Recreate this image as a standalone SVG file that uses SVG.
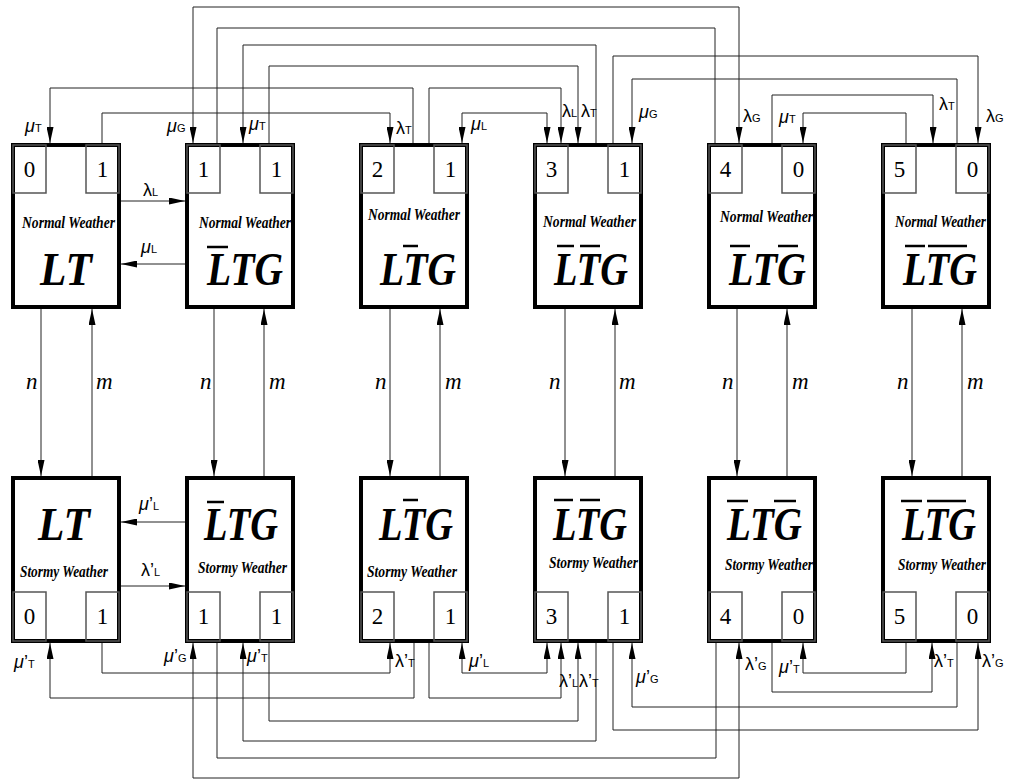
<svg xmlns="http://www.w3.org/2000/svg" width="1017" height="780" viewBox="0 0 1017 780">
<style>
.box{fill:#fff;stroke:#000;stroke-width:4}
.in{fill:none;stroke:#555;stroke-width:1.5}
.num{font-family:"Liberation Serif","Times New Roman",serif;font-size:23px;text-anchor:middle}
.w{font-family:"Liberation Serif","Times New Roman",serif;font-style:italic;font-weight:bold;font-size:16px}
.big{font-family:"Liberation Serif","Times New Roman",serif;font-style:italic;font-weight:bold;font-size:46px}
.bar{stroke:#000;stroke-width:2.5}
.c{fill:none;stroke:#222;stroke-width:1}
.lb{font-family:"Liberation Sans",Arial,sans-serif;font-size:18px}
.mu{font-style:italic;font-size:18px}
.s{font-size:11px}
.nm{font-family:"Liberation Serif","Times New Roman",serif;font-style:italic;font-size:23px}
</style>
<defs>
<marker id="ah" viewBox="0 0 16 7" refX="16" refY="3.5" markerWidth="16" markerHeight="7" orient="auto-start-reverse" markerUnits="userSpaceOnUse"><path d="M0,0 L16,3.5 L0,7 z" fill="#000"/></marker>
</defs>
<g id="connectors">
<path class="c" d="M193,143 V7 H739 V143" marker-start="url(#ah)" marker-end="url(#ah)"/>
<path class="c" d="M217,143 V28 H715 V143"/>
<path class="c" d="M596,143 V45 H243 V143" marker-end="url(#ah)"/>
<path class="c" d="M269,143 V66 H578 V143" marker-end="url(#ah)"/>
<path class="c" d="M413,143 V88 H50 V143" marker-end="url(#ah)"/>
<path class="c" d="M102,143 V113 H390 V143" marker-end="url(#ah)"/>
<path class="c" d="M429,143 V88 H561 V143" marker-end="url(#ah)"/>
<path class="c" d="M462,143 V113 H547 V143" marker-start="url(#ah)" marker-end="url(#ah)"/>
<path class="c" d="M613,143 V56 H978 V143" marker-end="url(#ah)"/>
<path class="c" d="M957,143 V79 H632 V143" marker-end="url(#ah)"/>
<path class="c" d="M772,143 V95 H933 V143" marker-end="url(#ah)"/>
<path class="c" d="M906,143 V113 H803 V143" marker-end="url(#ah)"/>
<path class="c" d="M193,643 V778 H739 V643" marker-start="url(#ah)" marker-end="url(#ah)"/>
<path class="c" d="M217,643 V758 H716 V643"/>
<path class="c" d="M596,643 V741 H243 V643" marker-end="url(#ah)"/>
<path class="c" d="M269,643 V721 H578 V643" marker-end="url(#ah)"/>
<path class="c" d="M414,643 V698 H50 V643" marker-end="url(#ah)"/>
<path class="c" d="M102,643 V673 H390 V643" marker-end="url(#ah)"/>
<path class="c" d="M429,643 V698 H561 V643" marker-end="url(#ah)"/>
<path class="c" d="M462,643 V673 H547 V643" marker-start="url(#ah)" marker-end="url(#ah)"/>
<path class="c" d="M613,643 V730 H978 V643" marker-end="url(#ah)"/>
<path class="c" d="M957,643 V707 H632 V643" marker-end="url(#ah)"/>
<path class="c" d="M772,643 V692 H932 V643" marker-end="url(#ah)"/>
<path class="c" d="M906,643 V673 H803 V643" marker-end="url(#ah)"/>
<path class="c" d="M121,201 H185" marker-end="url(#ah)"/>
<path class="c" d="M185,264 H121" marker-end="url(#ah)"/>
<path class="c" d="M185,522 H121" marker-end="url(#ah)"/>
<path class="c" d="M121,586 H185" marker-end="url(#ah)"/>
<path class="c" d="M41,309 V476" marker-end="url(#ah)"/>
<path class="c" d="M92,476 V309" marker-end="url(#ah)"/>
<path class="c" d="M214,309 V476" marker-end="url(#ah)"/>
<path class="c" d="M264,476 V309" marker-end="url(#ah)"/>
<path class="c" d="M390,309 V476" marker-end="url(#ah)"/>
<path class="c" d="M440,476 V309" marker-end="url(#ah)"/>
<path class="c" d="M565,309 V476" marker-end="url(#ah)"/>
<path class="c" d="M615,476 V309" marker-end="url(#ah)"/>
<path class="c" d="M737,309 V476" marker-end="url(#ah)"/>
<path class="c" d="M787,476 V309" marker-end="url(#ah)"/>
<path class="c" d="M912,309 V476" marker-end="url(#ah)"/>
<path class="c" d="M962,476 V309" marker-end="url(#ah)"/>
</g>
<g id="labels">
<text class="nm" x="26" y="389">n</text><text class="nm" x="96" y="389">m</text>
<text class="nm" x="200" y="389">n</text><text class="nm" x="269" y="389">m</text>
<text class="nm" x="375" y="389">n</text><text class="nm" x="445" y="389">m</text>
<text class="nm" x="549" y="389">n</text><text class="nm" x="619" y="389">m</text>
<text class="nm" x="722" y="389">n</text><text class="nm" x="792" y="389">m</text>
<text class="nm" x="897" y="389">n</text><text class="nm" x="967" y="389">m</text>
<text class="lb" x="25" y="132"><tspan class="mu">μ</tspan><tspan class="s">T</tspan></text>
<text class="lb" x="167" y="132"><tspan class="mu">μ</tspan><tspan class="s">G</tspan></text>
<text class="lb" x="249" y="130"><tspan class="mu">μ</tspan><tspan class="s">T</tspan></text>
<text class="lb" x="396" y="134">λ<tspan class="s">T</tspan></text>
<text class="lb" x="471" y="130"><tspan class="mu">μ</tspan><tspan class="s">L</tspan></text>
<text class="lb" x="562" y="117">λ<tspan class="s">L</tspan></text>
<text class="lb" x="581" y="117">λ<tspan class="s">T</tspan></text>
<text class="lb" x="639" y="118"><tspan class="mu">μ</tspan><tspan class="s">G</tspan></text>
<text class="lb" x="743" y="122">λ<tspan class="s">G</tspan></text>
<text class="lb" x="779" y="123"><tspan class="mu">μ</tspan><tspan class="s">T</tspan></text>
<text class="lb" x="939" y="110">λ<tspan class="s">T</tspan></text>
<text class="lb" x="986" y="122">λ<tspan class="s">G</tspan></text>
<text class="lb" x="143" y="196">λ<tspan class="s">L</tspan></text>
<text class="lb" x="141" y="253"><tspan class="mu">μ</tspan><tspan class="s">L</tspan></text>
<text class="lb" x="14" y="668"><tspan class="mu">μ</tspan>’<tspan class="s">T</tspan></text>
<text class="lb" x="164" y="662"><tspan class="mu">μ</tspan>’<tspan class="s">G</tspan></text>
<text class="lb" x="247" y="662"><tspan class="mu">μ</tspan>’<tspan class="s">T</tspan></text>
<text class="lb" x="395" y="667">λ’<tspan class="s">T</tspan></text>
<text class="lb" x="469" y="667"><tspan class="mu">μ</tspan>’<tspan class="s">L</tspan></text>
<text class="lb" x="559" y="687">λ’<tspan class="s">L</tspan></text>
<text class="lb" x="579" y="687">λ’<tspan class="s">T</tspan></text>
<text class="lb" x="636" y="683"><tspan class="mu">μ</tspan>’<tspan class="s">G</tspan></text>
<text class="lb" x="745" y="670">λ’<tspan class="s">G</tspan></text>
<text class="lb" x="779" y="673"><tspan class="mu">μ</tspan>’<tspan class="s">T</tspan></text>
<text class="lb" x="934" y="667">λ’<tspan class="s">T</tspan></text>
<text class="lb" x="982" y="667">λ’<tspan class="s">G</tspan></text>
<text class="lb" x="139" y="510"><tspan class="mu">μ</tspan>’<tspan class="s">L</tspan></text>
<text class="lb" x="141" y="576">λ’<tspan class="s">L</tspan></text>
</g>
<g id="N0">
<rect class="box" x="13" y="145" width="106" height="162"/>
<rect class="in" x="13" y="145" width="33" height="48"/><rect class="in" x="86" y="145" width="33" height="48"/>
<text class="num" x="29.5" y="177">0</text><text class="num" x="102.5" y="177">1</text>
<text class="w" x="22" y="228" textLength="93" lengthAdjust="spacingAndGlyphs">Normal Weather</text>
<text class="big" x="40" y="285" textLength="52" lengthAdjust="spacingAndGlyphs">LT</text>
</g>
<g id="N1">
<rect class="box" x="187" y="145" width="106" height="162"/>
<rect class="in" x="187" y="145" width="33" height="48"/><rect class="in" x="260" y="145" width="33" height="48"/>
<text class="num" x="203.5" y="177">1</text><text class="num" x="276.5" y="177">1</text>
<text class="w" x="199" y="228" textLength="92" lengthAdjust="spacingAndGlyphs">Normal Weather</text>
<text class="big" x="207" y="285" textLength="76" lengthAdjust="spacingAndGlyphs">LTG</text>
<line class="bar" x1="207" y1="247" x2="228" y2="247"/>
</g>
<g id="N2">
<rect class="box" x="361" y="145" width="106" height="162"/>
<rect class="in" x="361" y="145" width="33" height="48"/><rect class="in" x="434" y="145" width="33" height="48"/>
<text class="num" x="377.5" y="177">2</text><text class="num" x="450.5" y="177">1</text>
<text class="w" x="368" y="220" textLength="92" lengthAdjust="spacingAndGlyphs">Normal Weather</text>
<text class="big" x="380" y="285" textLength="76" lengthAdjust="spacingAndGlyphs">LTG</text>
<line class="bar" x1="403" y1="246" x2="418" y2="246"/>
</g>
<g id="N3">
<rect class="box" x="535" y="145" width="106" height="162"/>
<rect class="in" x="535" y="145" width="33" height="48"/><rect class="in" x="608" y="145" width="33" height="48"/>
<text class="num" x="551.5" y="177">3</text><text class="num" x="624.5" y="177">1</text>
<text class="w" x="543" y="227" textLength="93" lengthAdjust="spacingAndGlyphs">Normal Weather</text>
<text class="big" x="554" y="285" textLength="74" lengthAdjust="spacingAndGlyphs">LTG</text>
<line class="bar" x1="557" y1="246" x2="574" y2="246"/><line class="bar" x1="580" y1="246" x2="600" y2="246"/>
</g>
<g id="N4">
<rect class="box" x="709" y="145" width="106" height="162"/>
<rect class="in" x="709" y="145" width="33" height="48"/><rect class="in" x="782" y="145" width="33" height="48"/>
<text class="num" x="725.5" y="177">4</text><text class="num" x="798.5" y="177">0</text>
<text class="w" x="720" y="222" textLength="93" lengthAdjust="spacingAndGlyphs">Normal Weather</text>
<text class="big" x="729" y="285" textLength="77" lengthAdjust="spacingAndGlyphs">LTG</text>
<line class="bar" x1="730" y1="246" x2="750" y2="246"/><line class="bar" x1="778" y1="246" x2="798" y2="246"/>
</g>
<g id="N5">
<rect class="box" x="883" y="145" width="106" height="162"/>
<rect class="in" x="883" y="145" width="33" height="48"/><rect class="in" x="956" y="145" width="33" height="48"/>
<text class="num" x="899.5" y="177">5</text><text class="num" x="972.5" y="177">0</text>
<text class="w" x="895" y="227" textLength="91" lengthAdjust="spacingAndGlyphs">Normal Weather</text>
<text class="big" x="903" y="285" textLength="74" lengthAdjust="spacingAndGlyphs">LTG</text>
<line class="bar" x1="905" y1="246" x2="925" y2="246"/><line class="bar" x1="928" y1="246" x2="967" y2="246"/>
</g>
<g id="S0">
<rect class="box" x="13" y="478" width="106" height="163"/>
<rect class="in" x="13" y="592" width="33" height="49"/><rect class="in" x="86" y="592" width="33" height="49"/>
<text class="num" x="29.5" y="624">0</text><text class="num" x="102.5" y="624">1</text>
<text class="w" x="20" y="577" textLength="88" lengthAdjust="spacingAndGlyphs">Stormy Weather</text>
<text class="big" x="38" y="540" textLength="52" lengthAdjust="spacingAndGlyphs">LT</text>
</g>
<g id="S1">
<rect class="box" x="187" y="478" width="106" height="163"/>
<rect class="in" x="187" y="592" width="33" height="49"/><rect class="in" x="260" y="592" width="33" height="49"/>
<text class="num" x="203.5" y="624">1</text><text class="num" x="276.5" y="624">1</text>
<text class="w" x="198" y="573" textLength="89" lengthAdjust="spacingAndGlyphs">Stormy Weather</text>
<text class="big" x="204" y="540" textLength="74" lengthAdjust="spacingAndGlyphs">LTG</text>
<line class="bar" x1="207" y1="502" x2="224" y2="502"/>
</g>
<g id="S2">
<rect class="box" x="361" y="478" width="106" height="163"/>
<rect class="in" x="361" y="592" width="33" height="49"/><rect class="in" x="434" y="592" width="33" height="49"/>
<text class="num" x="377.5" y="624">2</text><text class="num" x="450.5" y="624">1</text>
<text class="w" x="367" y="577" textLength="90" lengthAdjust="spacingAndGlyphs">Stormy Weather</text>
<text class="big" x="379" y="540" textLength="74" lengthAdjust="spacingAndGlyphs">LTG</text>
<line class="bar" x1="403" y1="500" x2="418" y2="500"/>
</g>
<g id="S3">
<rect class="box" x="535" y="478" width="106" height="163"/>
<rect class="in" x="535" y="592" width="33" height="49"/><rect class="in" x="608" y="592" width="33" height="49"/>
<text class="num" x="551.5" y="624">3</text><text class="num" x="624.5" y="624">1</text>
<text class="w" x="549" y="568" textLength="89" lengthAdjust="spacingAndGlyphs">Stormy Weather</text>
<text class="big" x="553" y="540" textLength="74" lengthAdjust="spacingAndGlyphs">LTG</text>
<line class="bar" x1="554" y1="500" x2="573" y2="500"/><line class="bar" x1="580" y1="500" x2="600" y2="500"/>
</g>
<g id="S4">
<rect class="box" x="709" y="478" width="106" height="163"/>
<rect class="in" x="709" y="592" width="33" height="49"/><rect class="in" x="782" y="592" width="33" height="49"/>
<text class="num" x="725.5" y="624">4</text><text class="num" x="798.5" y="624">0</text>
<text class="w" x="725" y="570" textLength="88" lengthAdjust="spacingAndGlyphs">Stormy Weather</text>
<text class="big" x="727" y="540" textLength="75" lengthAdjust="spacingAndGlyphs">LTG</text>
<line class="bar" x1="727" y1="501" x2="748" y2="501"/><line class="bar" x1="774" y1="501" x2="796" y2="501"/>
</g>
<g id="S5">
<rect class="box" x="883" y="478" width="106" height="163"/>
<rect class="in" x="883" y="592" width="33" height="49"/><rect class="in" x="956" y="592" width="33" height="49"/>
<text class="num" x="899.5" y="624">5</text><text class="num" x="972.5" y="624">0</text>
<text class="w" x="898" y="570" textLength="88" lengthAdjust="spacingAndGlyphs">Stormy Weather</text>
<text class="big" x="902" y="540" textLength="74" lengthAdjust="spacingAndGlyphs">LTG</text>
<line class="bar" x1="901" y1="501" x2="922" y2="501"/><line class="bar" x1="927" y1="501" x2="966" y2="501"/>
</g>
</svg>
